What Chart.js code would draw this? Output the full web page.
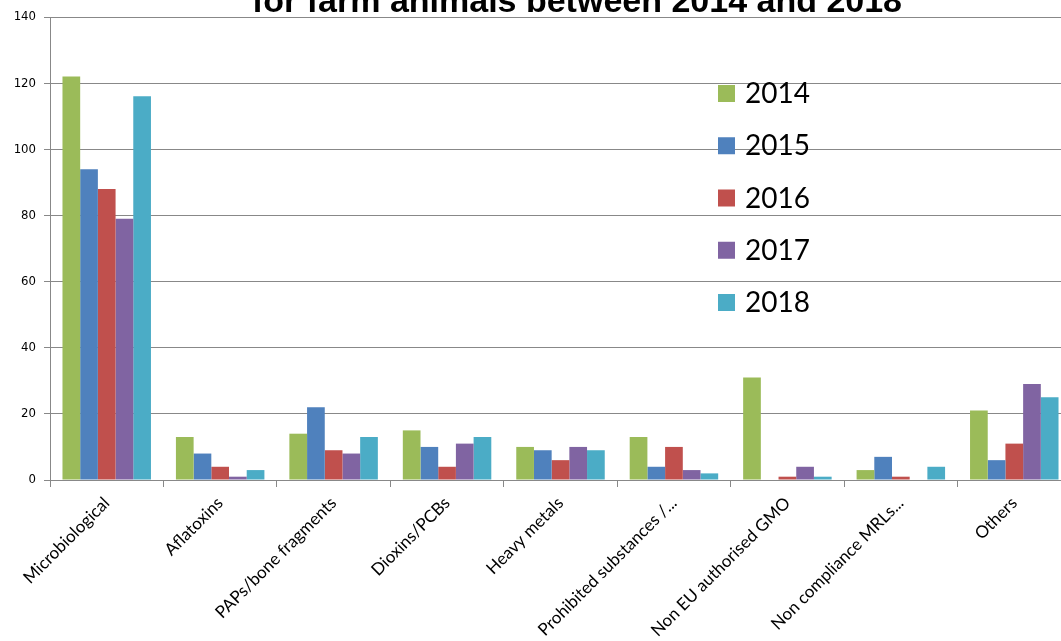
<!DOCTYPE html>
<html>
<head>
<meta charset="utf-8">
<script src="https://cdn.jsdelivr.net/npm/chart.js@4/dist/chart.umd.min.js"></script>
<style>
  html, body { margin: 0; padding: 0; background: #fff; overflow: hidden; }
  canvas { display: block; }
</style>
</head>
<body>
<canvas id="chart" width="1071" height="641"></canvas>
<script>
const categories = ['Microbiological', 'Aflatoxins', 'PAPs/bone fragments', 'Dioxins/PCBs', 'Heavy metals',
    'Prohibited substances /...', 'Non EU authorised GMO', 'Non compliance MRLs...', 'Others'];
const years = ['2014', '2015', '2016', '2017', '2018'];
const values2014 = [122, 13, 14, 15, 10, 13, 31, 3, 21];
const values2015 = [94, 8, 22, 10, 9, 4, 0, 7, 6];
const values2016 = [88, 4, 9, 4, 6, 10, 1, 1, 11];
const values2017 = [79, 1, 8, 11, 10, 3, 4, 0, 29];
const values2018 = [116, 3, 13, 13, 9, 2, 1, 4, 25];
const yTicks = [0, 20, 40, 60, 80, 100, 120, 140];
const titleText = 'for farm animals between 2014 and 2018';

const colors = ['#9BBB59', '#4F81BD', '#C0504D', '#8064A2', '#4BACC6'];
const seriesValues = [values2014, values2015, values2016, values2017, values2018];
const gridColor = '#888888';

// title is cut off at the top of the picture, only its lower part shows
const titlePlugin = {
    id: 'cutTitle',
    afterDraw(chart) {
        const ctx = chart.ctx;
        ctx.save();
        ctx.font = 'bold 34px "Liberation Sans", Arial, sans-serif';
        ctx.fillStyle = '#000';
        ctx.textAlign = 'center';
        ctx.textBaseline = 'alphabetic';
        ctx.fillText(titleText, 577, 12);
        ctx.restore();
    }
};

// legend sits inside the plot on the right
const legendPlugin = {
    id: 'insideLegend',
    afterDraw(chart) {
        const ctx = chart.ctx;
        ctx.save();
        ctx.font = '28px Lato, "Open Sans", sans-serif';
        ctx.textBaseline = 'middle';
        chart.data.datasets.forEach((ds, i) => {
            const y = 93 + i * 52.25;
            ctx.fillStyle = ds.backgroundColor;
            ctx.fillRect(718, y - 8, 17, 17);
            ctx.fillStyle = '#000';
            ctx.fillText(ds.label, 745, y + 1);
        });
        ctx.restore();
    }
};

const datasets = years.map((yr, i) => ({
    label: yr,
    data: seriesValues[i],
    backgroundColor: colors[i],
    borderWidth: 0,
    barPercentage: 1,
    categoryPercentage: 0.78
}));

new Chart(document.getElementById('chart'), {
    type: 'bar',
    data: { labels: categories, datasets },
    options: {
        responsive: false,
        animation: false,
        layout: { padding: { top: 17, right: 0, left: 0, bottom: 0 } },
        plugins: {
            legend: { display: false },
            title: { display: false },
            tooltip: { enabled: false }
        },
        scales: {
            x: {
                afterFit: (s) => { s.height = 161; },
                grid: {
                    offset: true,
                    drawOnChartArea: false,
                    drawTicks: true,
                    tickLength: 7,
                    color: gridColor
                },
                border: { color: gridColor, width: 1 },
                ticks: {
                    minRotation: 45,
                    maxRotation: 45,
                    autoSkip: false,
                    padding: 6,
                    color: '#000',
                    font: { family: 'Lato, "Open Sans", sans-serif', size: 17 }
                }
            },
            y: {
                min: 0,
                max: 140,
                afterFit: (s) => { s.width = 50; },
                afterBuildTicks: (s) => { s.ticks = yTicks.map(v => ({ value: v })); },
                grid: {
                    color: gridColor,
                    lineWidth: 1,
                    tickLength: 6
                },
                border: { color: gridColor, width: 1 },
                ticks: {
                    padding: 8,
                    color: '#000',
                    font: { family: '"Liberation Sans Narrow", "DejaVu Sans Condensed", sans-serif', size: 13 }
                }
            }
        }
    },
    plugins: [titlePlugin, legendPlugin]
});
</script>
</body>
</html>
